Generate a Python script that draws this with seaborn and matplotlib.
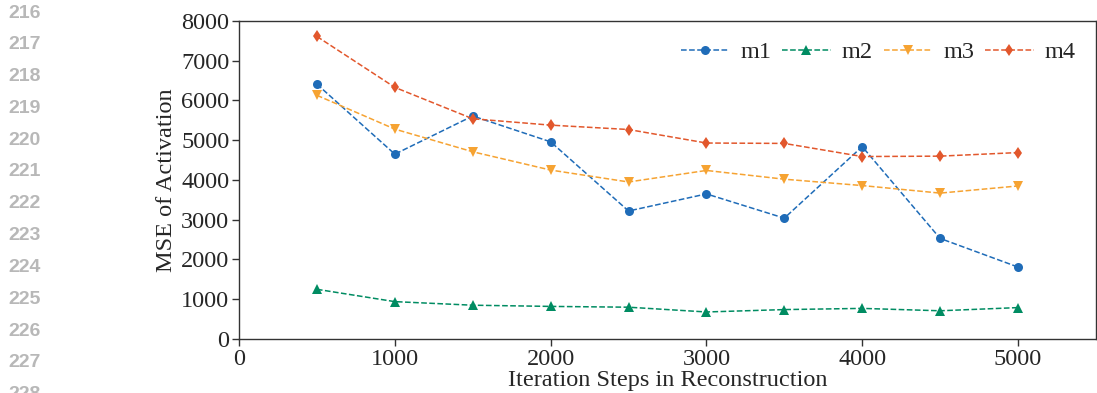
import numpy as np
import pandas as pd
import seaborn as sns
import matplotlib.pyplot as plt

steps = [500, 1000, 1500, 2000, 2500, 3000, 3500, 4000, 4500, 5000]
m1 = [6410, 4650, 5610, 4960, 3220, 3650, 3040, 4840, 2530, 1810]
m2 = [1250, 940, 850, 820, 800, 680, 740, 770, 710, 790]
m3 = [6130, 5280, 4710, 4250, 3950, 4240, 4020, 3860, 3670, 3850]
m4 = [7610, 6330, 5540, 5380, 5270, 4930, 4920, 4590, 4600, 4690]
line_numbers = list(range(216, 229))

sns.set_style('ticks')
plt.rcParams['font.family'] = ['Liberation Serif', 'DejaVu Serif']

fig = plt.figure(figsize=(10.97, 3.93), dpi=100)
ax = fig.add_axes([0.2179, 0.1374, 0.7811, 0.8092])

series = {'m1': m1, 'm2': m2, 'm3': m3, 'm4': m4}
colors = {'m1': '#1f6cb8', 'm2': '#008c62', 'm3': '#f6a332', 'm4': '#e2572c'}
markers = {'m1': 'o', 'm2': '^', 'm3': 'v', 'm4': 'd'}

for name, vals in series.items():
    sns.lineplot(x=steps, y=vals, ax=ax, color=colors[name], marker=markers[name],
                 markersize=6.5, markeredgewidth=0, linestyle='--', linewidth=1.1,
                 label=name)

ax.set_xlim(0, 5500)
ax.set_ylim(0, 8000)
ax.set_xticks([0, 1000, 2000, 3000, 4000, 5000])
ax.set_yticks(range(0, 8001, 1000))
ax.tick_params(labelsize=17.5, length=5, width=1, color='#333333', pad=2)
ax.set_xlabel('Iteration Steps in Reconstruction', fontsize=17.5, labelpad=0)
ax.set_ylabel('MSE of Activation', fontsize=17.5, labelpad=3)
for s in ax.spines.values():
    s.set_color('#333333')
    s.set_linewidth(1)

ax.legend(loc='upper right', ncol=4, frameon=False, fontsize=17.5,
          handlelength=2.0, columnspacing=0.45, handletextpad=0.45,
          bbox_to_anchor=(1.002, 1.005))

# page line numbers on the left margin
for i, n in enumerate(line_numbers):
    fig.text(0.008, 1 - (13 + i * 31.8) / 393, str(n), fontsize=14,
             fontweight='bold', color='#b8b8b8', family='Liberation Sans',
             va='center', ha='left')

fig.savefig('out.png', dpi=100)
